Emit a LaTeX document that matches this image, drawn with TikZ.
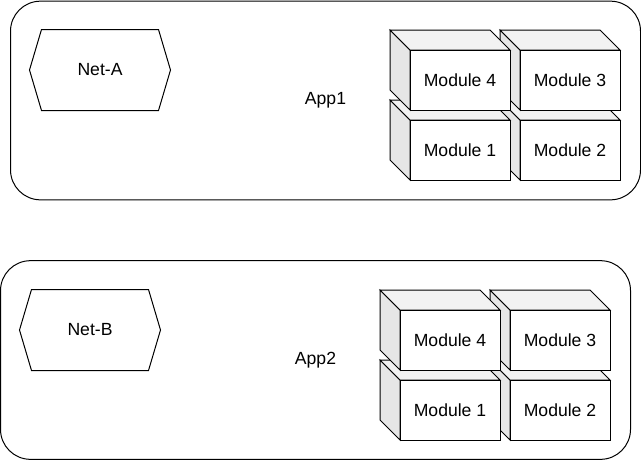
\documentclass[tikz,border=0pt]{standalone}
\usepackage{fontspec}
\setmainfont{Liberation Sans}
\usetikzlibrary{positioning, calc}
\definecolor{sidegray}{HTML}{E6E6E6}
\definecolor{topgray}{HTML}{F2F2F2}

\begin{document}
\begin{tikzpicture}[
  x=0.75pt, y=-0.75pt, line width=0.75pt,
  every node/.style={font=\fontsize{13.2}{15}\selectfont},
  appbox/.style={draw, rounded corners=22.5pt, minimum width=472.5pt,
    minimum height=149pt, inner sep=0pt},
  netbox/.style={minimum width=105pt, minimum height=60pt, inner sep=0pt},
  modbox/.style={draw, fill=white, minimum width=75pt, minimum height=45pt,
    inner sep=0pt},
]
\useasboundingbox (0,0) rectangle (641,461);

% Containers
\node[appbox] (app1) at (325.5,100.5) {App1};
\node[appbox] (app2) at (315.5,360) {App2};

% Networks
\node[netbox] (net1) at (100,70) {Net-A};
\node[netbox] (net2) at (90,330) {Net-B};
\foreach \n in {net1, net2} {
  \draw (\n.west) -- ([xshift=9pt]\n.north west) -- ([xshift=-9pt]\n.north east)
    -- (\n.east) -- ([xshift=-9pt]\n.south east) -- ([xshift=9pt]\n.south west) -- cycle;
}

% Module cubes (back ones first)
\foreach \app/\ox/\oy in {1/0/0, 2/-10/260} {
  \foreach \num/\cx/\cy in {2/500/100, 3/500/30, 1/390/100, 4/390/30} {
    \pgfmathsetmacro{\bx}{\cx+\ox}
    \pgfmathsetmacro{\by}{\cy+\oy}
    \filldraw[fill=sidegray] (\bx,\by) -- ++(20,20) -- ++(0,60) -- ++(-20,-20) -- cycle;
    \filldraw[fill=topgray] (\bx,\by) -- ++(100,0) -- ++(20,20) -- ++(-100,0) -- cycle;
    \node[modbox] (mod\app-\num) at (\bx+70,\by+50) {Module \num};
  }
}

\end{tikzpicture}
\end{document}
